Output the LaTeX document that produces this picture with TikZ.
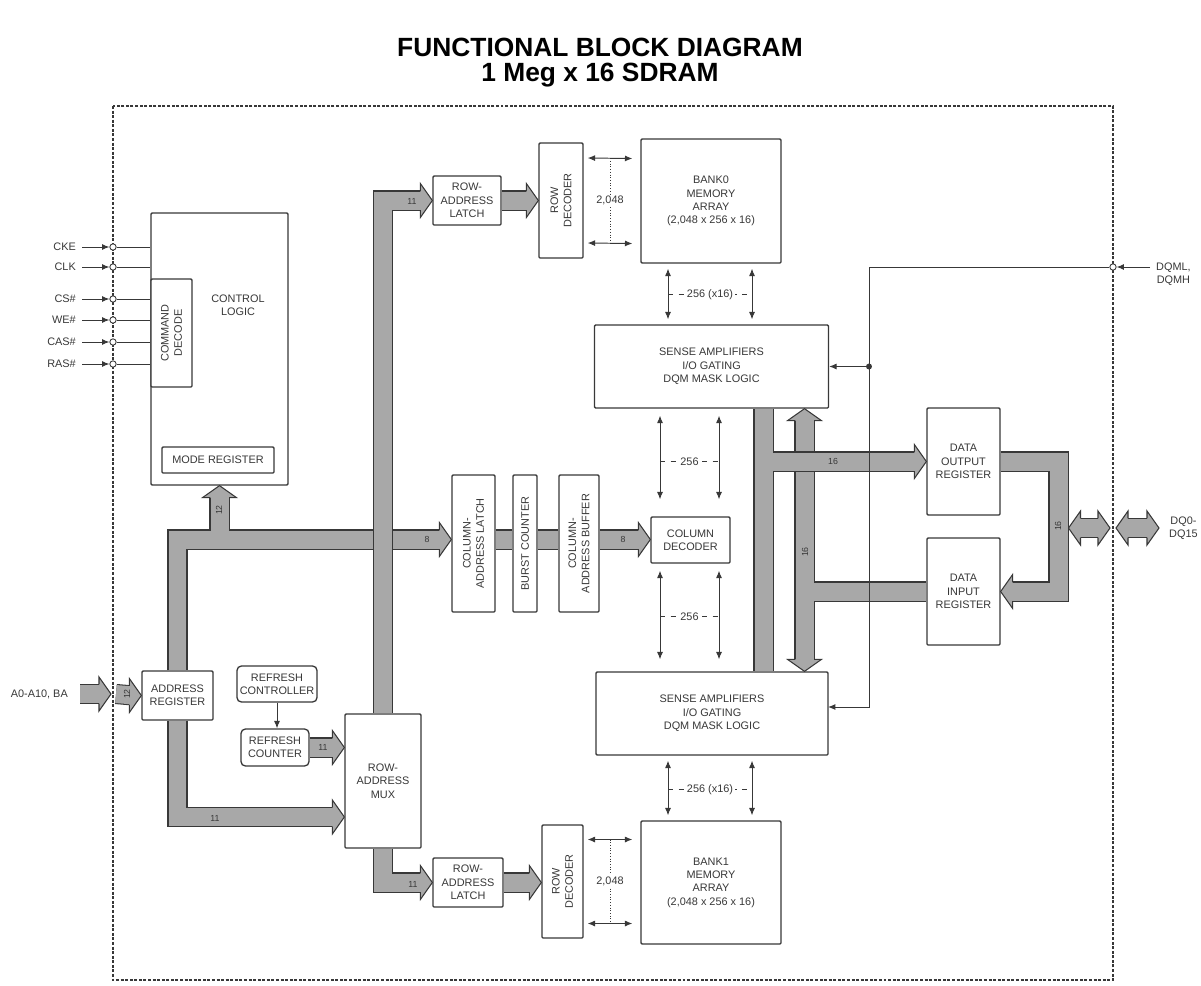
\documentclass[tikz,border=0pt]{standalone}
\usepackage{fontspec}
\setmainfont{Liberation Sans}
\usetikzlibrary{calc,arrows.meta}
\definecolor{busgray}{gray}{0.66}
\definecolor{ink}{gray}{0.22}
\newcommand{\bushead}[2]{%
  \fill[busgray, shift={(#1)}, rotate=#2] (0,0) -- (-12,17) -- (-12,-17) -- cycle;
  \draw[ink, line width=0.6pt, line join=miter, shift={(#1)}, rotate=#2]
    (-12,9.6) -- (-12,17) -- (0,0) -- (-12,-17) -- (-12,-9.6);}

\begin{document}
\begin{tikzpicture}[
  x=0.02cm, y=-0.02cm,
  every node/.style={font=\fontsize{6.2}{7.6}\selectfont, text=ink, align=center},
  blk/.style={draw=ink, line width=0.75pt, fill=white, inner sep=1pt, rounded corners=0.6pt},
  rblk/.style={blk, rounded corners=2.5pt},
  wire/.style={draw=ink, line width=0.55pt},
  busedge/.style={draw=ink, line width=0.36cm+1.2pt, line join=miter},
  busfill/.style={draw=busgray, line width=0.36cm, line join=miter},
  buslbl/.style={font=\fontsize{5}{6}\selectfont, inner sep=0pt},
  pin/.style={circle, draw=ink, fill=white, line width=0.5pt, inner sep=0pt, minimum size=3.6pt},
  tap/.style={circle, fill=ink, inner sep=0pt, minimum size=3.4pt},
  gap/.style={fill=white, inner sep=1pt},
  >={Latex[length=4.2pt,width=3.4pt]}
]
\useasboundingbox (0,0) rectangle (1201,985);

% title and chip outline
\node[font=\fontsize{15}{14.2}\bfseries\selectfont, text=black] (title) at (600,63)
  {FUNCTIONAL BLOCK DIAGRAM\\1 Meg x 16 SDRAM};
\draw[ink, line width=1.1pt, dash pattern=on 1.7pt off 0.9pt] (113,106) rectangle (1113,980);

% blocks
\node[blk, minimum width=2.74cm, minimum height=5.44cm] (ctl) at (219.5,349) {};
\node (ctltxt) at (238,305) {CONTROL\\LOGIC};
\node[blk, rotate=90, minimum width=2.16cm, minimum height=0.82cm] (cmddec) at (171.5,333) {COMMAND\\DECODE};
\node[blk, minimum width=2.24cm, minimum height=0.52cm] (modereg) at (218,460) {MODE REGISTER};

\node[blk, minimum width=1.36cm, minimum height=0.98cm] (rowlatch0) at (467,200.5) {ROW-\\ADDRESS\\LATCH};
\node[blk, rotate=90, minimum width=2.3cm, minimum height=0.88cm] (rowdec0) at (561,200.5) {ROW\\DECODER};
\node[blk, minimum width=2.8cm, minimum height=2.48cm] (bank0) at (711,201) {BANK0\\MEMORY\\ARRAY\\(2,048 x 256 x 16)};
\node[blk, minimum width=4.68cm, minimum height=1.66cm] (sense0) at (711.5,366.5) {SENSE AMPLIFIERS\\I/O GATING\\DQM MASK LOGIC};

\node[blk, rotate=90, minimum width=2.74cm, minimum height=0.86cm] (collatch) at (473.5,543.5) {COLUMN-\\ADDRESS LATCH};
\node[blk, rotate=90, minimum width=2.74cm, minimum height=0.48cm] (burst) at (525,543.5) {BURST COUNTER};
\node[blk, rotate=90, minimum width=2.74cm, minimum height=0.8cm] (colbuf) at (579,543.5) {COLUMN-\\ADDRESS BUFFER};
\node[blk, minimum width=1.58cm, minimum height=0.92cm] (coldec) at (690.5,540) {COLUMN\\DECODER};

\node[blk, minimum width=1.46cm, minimum height=2.14cm] (dataout) at (963.5,461.5) {DATA\\OUTPUT\\REGISTER};
\node[blk, minimum width=1.46cm, minimum height=2.14cm] (datain) at (963.5,591.5) {DATA\\INPUT\\REGISTER};

\node[blk, minimum width=4.64cm, minimum height=1.66cm] (sense1) at (712,713.5) {SENSE AMPLIFIERS\\I/O GATING\\DQM MASK LOGIC};
\node[blk, minimum width=2.8cm, minimum height=2.46cm] (bank1) at (711,882.5) {BANK1\\MEMORY\\ARRAY\\(2,048 x 256 x 16)};
\node[blk, rotate=90, minimum width=2.26cm, minimum height=0.82cm] (rowdec1) at (562.5,881.5) {ROW\\DECODER};
\node[blk, minimum width=1.4cm, minimum height=0.98cm] (rowlatch1) at (468,882.5) {ROW-\\ADDRESS\\LATCH};
\node[blk, minimum width=1.52cm, minimum height=2.68cm] (mux) at (383,781) {ROW-\\ADDRESS\\MUX};

\node[blk, minimum width=1.42cm, minimum height=0.98cm] (addrreg) at (177.5,695.5) {ADDRESS\\REGISTER};
\node[rblk, minimum width=1.6cm, minimum height=0.72cm] (refctl) at (277,684) {REFRESH\\CONTROLLER};
\node[rblk, minimum width=1.36cm, minimum height=0.74cm] (refcnt) at (275,747.5) {REFRESH\\COUNTER};

% outside labels
\node[anchor=east] (alabel) at (74,694) {A0-A10, BA};
\node[anchor=west] (dqlbl) at (1163,528) {DQ0-\\DQ15};
\node[anchor=west] (dqmlbl) at (1150,274) {DQML,\\DQMH};

\coordinate (colbus) at (0,539.5);
\coordinate (mbus) at (0,817);
\coordinate (abus) at (763.5,0);
\coordinate (bbus) at (804.5,0);
\coordinate (loopx) at (1058.5,528);
\coordinate (apin) at (113,694);
\coordinate (dqpin) at (1113,528);

% buses
\foreach \ly in {busedge,busfill}{
  \draw[\ly] ($(alabel.east)+(6,0)$) -- ($(apin)+(-10,0)$);
  \draw[\ly] ($(apin)+(3,0)$) -- ($(addrreg.west)+(-8,0)$);
  \draw[\ly] (addrreg.north) |- ($(collatch.north |- colbus)+(-8,0)$);
  \draw[\ly] (ctl.south |- colbus) -- ($(ctl.south)+(0,8)$);
  \draw[\ly] (addrreg.south) |- ($(mux.west |- mbus)+(-8,0)$);
  \draw[\ly] (refcnt.east) -- ($(mux.west |- refcnt.east)+(-8,0)$);
  \draw[\ly] (rowlatch0.east) -- ($(rowdec0.north |- rowlatch0.east)+(-8,0)$);
  \draw[\ly] (mux.south) |- ($(rowlatch1.west)+(-8,0)$);
  \draw[\ly] (rowlatch1.east) -- ($(rowdec1.north |- rowlatch1.east)+(-8,0)$);
  \draw[\ly] (collatch.south |- colbus) -- (burst.north |- colbus);
  \draw[\ly] (burst.south |- colbus) -- (colbuf.north |- colbus);
  \draw[\ly] (colbuf.south |- colbus) -- ($(coldec.west |- colbus)+(-8,0)$);
  \draw[\ly] ($(sense0.south -| bbus)+(0,8)$) -- ($(sense1.north -| bbus)+(0,-8)$);
  \draw[\ly] (bbus |- datain.west) -- (datain.west);
  \draw[\ly] (dataout.east) -| (loopx) |- ($(datain.east)+(8,0)$);
  \draw[\ly] ($(loopx)+(17,0)$) -- ($(dqpin)+(-11,0)$);
  \draw[\ly] ($(dqpin)+(11,0)$) -- ($(dqlbl.west)+(-12,0)$);
}
\bushead{$(apin)+(-2,0)$}{0}
\bushead{addrreg.west}{0}
\bushead{collatch.north |- colbus}{0}
\bushead{ctl.south}{90}
\bushead{mux.west |- mbus}{0}
\bushead{mux.west |- refcnt.east}{0}
\bushead{rowdec0.north |- rowlatch0.east}{0}
\bushead{rowlatch1.west}{0}
\bushead{rowdec1.north |- rowlatch1.east}{0}
\bushead{coldec.west |- colbus}{0}
\bushead{sense0.south -| bbus}{90}
\bushead{sense1.north -| bbus}{-90}
\bushead{datain.east}{180}
\bushead{$(loopx)+(10,0)$}{180}
\bushead{$(dqpin)+(-3,0)$}{0}
\bushead{$(dqpin)+(3,0)$}{180}
\bushead{$(dqlbl.west)+(-4,0)$}{0}

% buses that pass over
\foreach \ly in {busedge,busfill}{
  \draw[\ly] (mux.north) |- ($(rowlatch0.west)+(-8,0)$);
  \draw[\ly] (sense0.south -| abus) -- (sense1.north -| abus);
  \draw[\ly] (abus |- dataout.west) -- ($(dataout.west)+(-8,0)$);
}
\bushead{rowlatch0.west}{0}
\bushead{dataout.west}{0}

% bus widths
\node[buslbl, rotate=90] (wa) at (127,694) {12};
\node[buslbl, rotate=90] (wb) at (219,510) {12};
\node[buslbl] (wc) at (427,539.5) {8};
\node[buslbl] (wd) at (623,539.5) {8};
\node[buslbl] (we) at (412,201) {11};
\node[buslbl] (wf) at (323,747) {11};
\node[buslbl] (wg) at (215,818) {11};
\node[buslbl] (wh) at (413,884) {11};
\node[buslbl] (wi) at (833,461.5) {16};
\node[buslbl, rotate=90] (wj) at (805,552) {16};
\node[buslbl, rotate=90] (wk) at (1058,526) {16};

% control inputs
\foreach \sig/\yy [count=\i] in {CKE/247,CLK/267,CS\#/299,WE\#/320,CAS\#/342,RAS\#/364}{
  \node[pin] (pin\i) at (113,\yy) {};
  \node[anchor=east] (sig\i) at (82,\yy) {\sig};
  \draw[wire,->] (sig\i.east) -- (pin\i.west);
  \draw[wire] (pin\i.east) -- (pin\i -| ctl.west);
}

\draw[wire,->] (refctl.south) -- (refctl.south |- refcnt.north);

% row lines
\coordinate (r0a) at ($(rowdec0.south)+(4,-42.5)$);
\coordinate (b0a) at ($(bank0.west)+(-8,-42.5)$);
\coordinate (r0b) at ($(rowdec0.south)+(4,42.5)$);
\coordinate (b0b) at ($(bank0.west)+(-8,42.5)$);
\draw[wire,<->] (r0a) -- (b0a);
\draw[wire,<->] (r0b) -- (b0b);
\draw[wire,densely dotted] ($(r0a)!0.5!(b0a)$) -- node[gap] (n2048a) {2,048} ($(r0b)!0.5!(b0b)$);

\coordinate (r1a) at ($(rowdec1.south)+(4,-42)$);
\coordinate (b1a) at ($(bank1.west)+(-8,-43)$);
\coordinate (r1b) at ($(rowdec1.south)+(4,42)$);
\coordinate (b1b) at ($(bank1.west)+(-8,41)$);
\draw[wire,<->] (r1a) -- (b1a);
\draw[wire,<->] (r1b) -- (b1b);
\draw[wire,densely dotted] ($(r1a)!0.5!(b1a)$) -- node[gap] (n2048b) {2,048} ($(r1b)!0.5!(b1b)$);

% column lines
\coordinate (c0a) at ($(bank0.south)+(-43,5)$);
\coordinate (c0b) at ($(bank0.south)+(41,5)$);
\draw[wire,<->] (c0a) -- ($(c0a |- sense0.north)+(0,-5)$);
\draw[wire,<->] (c0b) -- ($(c0b |- sense0.north)+(0,-5)$);
\draw[wire,dashed] ($(c0a)+(0,26)$) -- node[gap] (n256a) {256 (x16)} ($(c0b)+(0,26)$);

\coordinate (c1a) at ($(bank1.north)+(-43,-5)$);
\coordinate (c1b) at ($(bank1.north)+(41,-5)$);
\draw[wire,<->] ($(c1a |- sense1.south)+(0,5)$) -- (c1a);
\draw[wire,<->] ($(c1b |- sense1.south)+(0,5)$) -- (c1b);
\draw[wire,dashed] ($(c1a)+(0,-26)$) -- node[gap] (n256b) {256 (x16)} ($(c1b)+(0,-26)$);

\coordinate (d0a) at ($(coldec.north)+(-30.5,-17)$);
\coordinate (d0b) at ($(coldec.north)+(28.5,-17)$);
\draw[wire,<->] ($(d0a |- sense0.south)+(0,7)$) -- (d0a);
\draw[wire,<->] ($(d0b |- sense0.south)+(0,7)$) -- (d0b);
\draw[wire,dashed] ($(d0a)+(0,-38)$) -- node[gap] (n256c) {256} ($(d0b)+(0,-38)$);

\coordinate (d1a) at ($(coldec.south)+(-30.5,7)$);
\coordinate (d1b) at ($(coldec.south)+(28.5,7)$);
\draw[wire,<->] (d1a) -- ($(d1a |- sense1.north)+(0,-12)$);
\draw[wire,<->] (d1b) -- ($(d1b |- sense1.north)+(0,-12)$);
\draw[wire,dashed] ($(d1a)+(0,46)$) -- node[gap] (n256d) {256} ($(d1b)+(0,46)$);

% DQM mask lines
\node[pin] (dqmc) at (1113,267) {};
\coordinate (dqmx) at (869,0);
\coordinate (s1in) at (828,707);
\draw[wire,->] (dqmlbl.west |- dqmc) -- (dqmc.east);
\draw[wire,->] (dqmc.west) -| (dqmx |- s1in) -- (s1in);
\draw[wire,->] (dqmx |- sense0.east) -- (sense0.east);
\node[tap] (dqmtap) at (dqmx |- sense0.east) {};
\end{tikzpicture}
\end{document}
